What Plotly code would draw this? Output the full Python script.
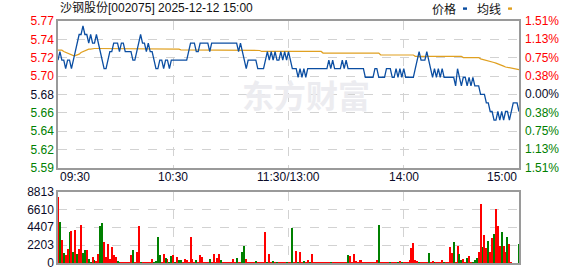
import plotly.graph_objects as go

# ---------------- data ----------------
stock_name = "沙钢股份"
stock_code = "002075"
timestamp = "2025-12-12 15:00"
prev_close = 5.68
pct_limit = 1.51

price_tick_labels = ["5.77", "5.74", "5.72", "5.70", "5.68", "5.66", "5.64", "5.62", "5.59"]
pct_tick_labels = ["1.51%", "1.13%", "0.75%", "0.38%", "0.00%", "0.38%", "0.75%", "1.13%", "1.51%"]
vol_tick_vals = [0, 2203, 4407, 6610, 8813]
time_labels = ["09:30", "10:30", "11:30/13:00", "14:00", "15:00"]
time_label_minutes = [0, 60, 120, 180, 240]
legend_labels = ["价格", "均线"]

price = [
    5.72, 5.73, 5.72, 5.72, 5.71, 5.72, 5.72, 5.71, 5.72, 5.73,
    5.74, 5.75, 5.75, 5.76, 5.75, 5.75, 5.74, 5.75, 5.74, 5.74,
    5.75, 5.74, 5.73, 5.72, 5.71, 5.71, 5.72, 5.73, 5.73, 5.74,
    5.74, 5.74, 5.73, 5.74, 5.74, 5.73, 5.73, 5.73, 5.73, 5.72,
    5.72, 5.73, 5.74, 5.75, 5.74, 5.74, 5.73, 5.74, 5.73, 5.73,
    5.72, 5.71, 5.71, 5.72, 5.72, 5.71, 5.72, 5.72, 5.71, 5.72,
    5.72, 5.72, 5.72, 5.72, 5.72, 5.72, 5.72, 5.72, 5.73, 5.74,
    5.74, 5.74, 5.73, 5.73, 5.74, 5.74, 5.74, 5.74, 5.74, 5.73,
    5.74, 5.74, 5.74, 5.74, 5.74, 5.74, 5.74, 5.74, 5.74, 5.74,
    5.74, 5.74, 5.74, 5.74, 5.73, 5.74, 5.73, 5.72, 5.71, 5.72,
    5.72, 5.72, 5.72, 5.72, 5.71, 5.71, 5.71, 5.71, 5.72, 5.73,
    5.72, 5.73, 5.72, 5.73, 5.72, 5.72, 5.73, 5.72, 5.73, 5.72,
    5.73, 5.72, 5.71, 5.71, 5.71, 5.70, 5.71, 5.70, 5.71, 5.70,
    5.71, 5.71, 5.71, 5.71, 5.71, 5.71, 5.71, 5.71, 5.71, 5.71,
    5.71, 5.72, 5.71, 5.72, 5.71, 5.71, 5.71, 5.71, 5.72, 5.71,
    5.72, 5.71, 5.71, 5.71, 5.71, 5.71, 5.71, 5.71, 5.71, 5.71,
    5.70, 5.70, 5.70, 5.70, 5.70, 5.71, 5.71, 5.70, 5.70, 5.70,
    5.70, 5.71, 5.71, 5.71, 5.70, 5.70, 5.71, 5.70, 5.71, 5.70,
    5.71, 5.70, 5.70, 5.70, 5.70, 5.70, 5.71, 5.72, 5.73, 5.72,
    5.72, 5.72, 5.73, 5.72, 5.71, 5.70, 5.71, 5.70, 5.71, 5.70,
    5.71, 5.70, 5.70, 5.70, 5.70, 5.70, 5.70, 5.69, 5.71, 5.70,
    5.69, 5.70, 5.70, 5.69, 5.70, 5.69, 5.70, 5.69, 5.69, 5.69,
    5.68, 5.68, 5.68, 5.67, 5.67, 5.66, 5.66, 5.65, 5.65, 5.66,
    5.65, 5.66, 5.65, 5.66, 5.66, 5.65, 5.66, 5.67, 5.67, 5.67,
    5.66,
]

avg_price = [
    5.7317, 5.7317, 5.7317, 5.7300, 5.7290, 5.7280, 5.7270, 5.7260, 5.7253, 5.7253,
    5.7260, 5.7270, 5.7290, 5.7300, 5.7310, 5.7321, 5.7328, 5.7330, 5.7336, 5.7336,
    5.7336, 5.7336, 5.7336, 5.7336, 5.7336, 5.7328, 5.7328, 5.7328, 5.7328, 5.7328,
    5.7328, 5.7328, 5.7328, 5.7328, 5.7328, 5.7328, 5.7328, 5.7328, 5.7328, 5.7328,
    5.7328, 5.7328, 5.7328, 5.7328, 5.7328, 5.7328, 5.7328, 5.7328, 5.7328, 5.7328,
    5.7328, 5.7328, 5.7328, 5.7328, 5.7328, 5.7328, 5.7328, 5.7328, 5.7328, 5.7328,
    5.7328, 5.7328, 5.7328, 5.7328, 5.7321, 5.7321, 5.7321, 5.7321, 5.7321, 5.7321,
    5.7321, 5.7321, 5.7321, 5.7321, 5.7321, 5.7321, 5.7321, 5.7321, 5.7321, 5.7321,
    5.7313, 5.7313, 5.7313, 5.7313, 5.7313, 5.7313, 5.7313, 5.7313, 5.7313, 5.7313,
    5.7313, 5.7313, 5.7313, 5.7313, 5.7313, 5.7313, 5.7313, 5.7313, 5.7313, 5.7313,
    5.7313, 5.7313, 5.7313, 5.7313, 5.7313, 5.7313, 5.7302, 5.7302, 5.7302, 5.7302,
    5.7302, 5.7302, 5.7302, 5.7302, 5.7302, 5.7302, 5.7302, 5.7302, 5.7302, 5.7302,
    5.7302, 5.7302, 5.7302, 5.7302, 5.7302, 5.7302, 5.7302, 5.7302, 5.7302, 5.7302,
    5.7302, 5.7302, 5.7302, 5.7302, 5.7302, 5.7302, 5.7302, 5.7302, 5.7283, 5.7283,
    5.7283, 5.7283, 5.7283, 5.7283, 5.7283, 5.7283, 5.7283, 5.7283, 5.7283, 5.7283,
    5.7283, 5.7283, 5.7283, 5.7283, 5.7283, 5.7283, 5.7283, 5.7283, 5.7283, 5.7283,
    5.7283, 5.7283, 5.7283, 5.7283, 5.7283, 5.7283, 5.7283, 5.7283, 5.7260, 5.7260,
    5.7260, 5.7260, 5.7260, 5.7260, 5.7260, 5.7260, 5.7260, 5.7260, 5.7260, 5.7260,
    5.7260, 5.7260, 5.7260, 5.7260, 5.7260, 5.7260, 5.7245, 5.7245, 5.7245, 5.7245,
    5.7245, 5.7245, 5.7245, 5.7245, 5.7245, 5.7245, 5.7245, 5.7245, 5.7245, 5.7245,
    5.7245, 5.7245, 5.7245, 5.7245, 5.7245, 5.7245, 5.7245, 5.7245, 5.7245, 5.7245,
    5.7245, 5.7230, 5.7230, 5.7230, 5.7230, 5.7230, 5.7230, 5.7230, 5.7230, 5.7230,
    5.7215, 5.7210, 5.7205, 5.7200, 5.7190, 5.7185, 5.7180, 5.7173, 5.7165, 5.7158,
    5.7150, 5.7140, 5.7130, 5.7120, 5.7115, 5.7110, 5.7105, 5.7101, 5.7101, 5.7095,
    5.7090,
]

volume = [
    8180, 5160, 2900, 1230, 990, 1830, 3850, 3970, 1470, 4090,
    1110, 1830, 4800, 1230, 1710, 1710, 520, 160, 750, 400,
    280, 1110, 4680, 5040, 2660, 750, 2420, 520, 2060, 990,
    750, 280, 160, 160, 160, 160, 160, 160, 990, 1710,
    160, 1470, 4680, 160, 160, 160, 160, 160, 160, 520,
    160, 280, 3260, 990, 160, 1110, 640, 520, 160, 870,
    990, 160, 750, 400, 400, 160, 520, 400, 160, 3260,
    520, 160, 400, 160, 990, 750, 160, 160, 160, 520,
    160, 1110, 160, 640, 1110, 400, 160, 160, 160, 160,
    160, 520, 160, 640, 160, 160, 1350, 2180, 520, 160,
    160, 160, 160, 280, 160, 160, 160, 160, 3850, 160,
    1110, 160, 280, 160, 160, 160, 160, 160, 160, 160,
    160, 160, 4330, 160, 1590, 160, 1350, 160, 280, 160,
    400, 160, 1110, 160, 160, 160, 160, 160, 160, 160,
    160, 160, 160, 160, 160, 160, 160, 160, 160, 160,
    160, 990, 870, 160, 1110, 280, 160, 400, 400, 160,
    160, 160, 160, 160, 160, 160, 400, 4800, 160, 160,
    160, 160, 160, 160, 160, 160, 160, 160, 280, 160,
    160, 160, 160, 400, 1950, 2540, 400, 280, 160, 160,
    160, 160, 160, 1230, 160, 280, 160, 160, 160, 160,
    400, 160, 160, 160, 2060, 1230, 2660, 160, 2180, 1110,
    400, 520, 160, 640, 870, 160, 160, 400, 640, 1470,
    7300, 2060, 3490, 1950, 2780, 1470, 3140, 3610, 6710, 4680,
    2180, 3850, 2180, 1350, 3260, 2420, 160, 0, 0, 0,
    2420,
]

# 1 = up minute (red), -1 = down minute (green)
direction = [
    1, -1, 1, -1, 1, 1, -1, 1, -1, 1,
    -1, 1, 1, -1, -1, 1, -1, -1, 1, -1,
    1, 1, -1, -1, 1, 1, 1, 1, 1, 1,
    1, -1, -1, 1, 1, 1, 1, 1, 1, -1,
    1, 1, 1, -1, 1, 1, 1, 1, 1, 1,
    -1, -1, -1, -1, 1, 1, -1, 1, -1, -1,
    1, -1, 1, -1, -1, 1, 1, 1, 1, 1,
    1, 1, -1, 1, 1, 1, 1, 1, 1, -1,
    1, 1, 1, 1, 1, -1, 1, 1, 1, 1,
    1, 1, 1, -1, 1, 1, -1, -1, 1, 1,
    1, 1, 1, -1, 1, 1, 1, 1, 1, -1,
    1, 1, -1, 1, -1, 1, 1, 1, 1, -1,
    1, 1, -1, 1, 1, -1, 1, 1, -1, 1,
    1, -1, 1, 1, 1, 1, 1, 1, 1, 1,
    1, 1, -1, 1, 1, 1, 1, 1, 1, 1,
    1, -1, 1, 1, 1, 1, 1, 1, 1, 1,
    1, 1, 1, 1, 1, 1, 1, -1, 1, 1,
    1, 1, 1, -1, 1, 1, 1, -1, 1, -1,
    1, 1, 1, 1, 1, 1, 1, 1, -1, 1,
    1, 1, 1, -1, 1, 1, -1, 1, 1, 1,
    1, -1, 1, 1, 1, 1, -1, 1, 1, -1,
    -1, 1, 1, -1, 1, 1, -1, -1, -1, 1,
    1, -1, 1, 1, -1, 1, 1, -1, 1, 1,
    1, -1, 1, 1, -1, 1, 1, 1, 1, 1,
    -1,
]

# ---------------- styling ----------------
RED = "#ff0000"
GREEN = "#008000"
NEUTRAL = "#0a0a28"
PRICE_COLOR = "#0b4ea2"
AVG_COLOR = "#e0a020"
GRID = "#d2d2d2"
FRAME = "#9a9a9a"
FONT = "Liberation Sans, Arial, Noto Sans CJK SC, sans-serif"

W, H = 578, 276
L, R, T, B = 58, 59, 21, 6
pw, ph = W - L - R, H - T - B


def px_x(px):
    return (px - L) / pw


def px_y(py):
    return (H - B - py) / ph


minutes = list(range(len(price)))
lo = prev_close * (1 - pct_limit / 100)
hi = prev_close * (1 + pct_limit / 100)
n = len(price_tick_labels) - 1
price_ticks = [hi - i * (hi - lo) / n for i in range(n + 1)]


def level_color(v):
    if abs(v - prev_close) < 1e-9:
        return NEUTRAL
    return RED if v > prev_close else GREEN


left_text = [f"<span style='color:{level_color(v)}'>{t}</span>"
             for v, t in zip(price_ticks, price_tick_labels)]
bar_colors = [RED if d > 0 else GREEN for d in direction]

fig = go.Figure()
fig.add_trace(go.Bar(x=minutes, y=volume, marker=dict(color=bar_colors, line=dict(width=0)),
                     width=0.5, xaxis="x2", yaxis="y2", hoverinfo="skip"))
fig.add_trace(go.Scatter(x=minutes, y=avg_price, mode="lines",
                         line=dict(color=AVG_COLOR, width=1.2), hoverinfo="skip"))
fig.add_trace(go.Scatter(x=minutes, y=price, mode="lines",
                         line=dict(color=PRICE_COLOR, width=1.3), hoverinfo="skip"))

axis_common = dict(showline=True, mirror=True, linecolor=FRAME, linewidth=1.5,
                   showgrid=True, gridcolor=GRID, griddash="dash", gridwidth=1,
                   zeroline=False, ticks="", fixedrange=True)

price_top = 1.0
price_bottom = px_y(172)
vol_top = px_y(196.5)

fig.update_layout(
    width=W, height=H, margin=dict(l=L, r=R, t=T, b=B),
    paper_bgcolor="white", plot_bgcolor="white", showlegend=False,
    font=dict(family=FONT, size=12, color=NEUTRAL),
    bargap=0,
    xaxis=dict(domain=[0, 1], anchor="y", range=[0, 240],
               tickvals=time_label_minutes[1:-1], showticklabels=False, **axis_common),
    yaxis=dict(domain=[price_bottom, price_top], anchor="x", range=[lo, hi],
               tickvals=price_ticks, ticktext=left_text,
               tickfont=dict(size=12, family=FONT), **axis_common),
    xaxis2=dict(domain=[0, 1], anchor="y2", range=[0, 240], matches="x",
                tickvals=time_label_minutes[1:-1], showticklabels=False, **axis_common),
    yaxis2=dict(domain=[0, vol_top], anchor="x2", range=[0, vol_tick_vals[-1]],
                tickvals=vol_tick_vals, ticktext=[str(v) for v in vol_tick_vals],
                tickfont=dict(size=12, family=FONT, color=NEUTRAL), **axis_common),
)

ann = []
# right-hand percentage labels
for v, t in zip(price_ticks, pct_tick_labels):
    ann.append(dict(x=1, xref="paper", xshift=4, y=v, yref="y", text=t, showarrow=False,
                    xanchor="left", yanchor="middle",
                    font=dict(size=12, family=FONT, color=level_color(v))))
# time labels
for i, (m, t) in enumerate(zip(time_label_minutes, time_labels)):
    anchor = "left" if i == 0 else ("right" if i == len(time_labels) - 1 else "center")
    ann.append(dict(x=m, xref="x", y=px_y(182), yref="paper", text=t, showarrow=False,
                    xanchor=anchor, yanchor="middle",
                    font=dict(size=12, family=FONT, color=NEUTRAL)))
# title
ann.append(dict(x=0, xref="paper", y=px_y(8), yref="paper", showarrow=False,
                text=f"{stock_name}[{stock_code}] {timestamp}", xanchor="left", yanchor="middle",
                font=dict(size=12, family=FONT, color="#111111")))
# legend
ann.append(dict(x=px_x(444), xref="paper", y=px_y(8), yref="paper", showarrow=False,
                text=legend_labels[0], xanchor="center", yanchor="middle",
                font=dict(size=12, family="Noto Sans CJK SC", color="#111111")))
ann.append(dict(x=px_x(489), xref="paper", y=px_y(8), yref="paper", showarrow=False,
                text=legend_labels[1], xanchor="center", yanchor="middle",
                font=dict(size=12, family="Noto Sans CJK SC", color="#111111")))
# watermark
ann.append(dict(x=px_x(306), xref="paper", y=px_y(96), yref="paper", showarrow=False,
                text="<b>东方财富</b>", xanchor="center", yanchor="middle",
                font=dict(size=32, family="Noto Sans CJK SC", color="#ececf0")))
fig.update_layout(annotations=ann)

shapes = [
    dict(type="rect", xref="paper", yref="paper", x0=px_x(463), x1=px_x(467),
         y0=px_y(9.5), y1=px_y(7), fillcolor=PRICE_COLOR, line=dict(width=0)),
    dict(type="rect", xref="paper", yref="paper", x0=px_x(508), x1=px_x(512),
         y0=px_y(9.5), y1=px_y(7), fillcolor=AVG_COLOR, line=dict(width=0)),
]
fig.update_layout(shapes=shapes)

fig.write_html("out.html")
